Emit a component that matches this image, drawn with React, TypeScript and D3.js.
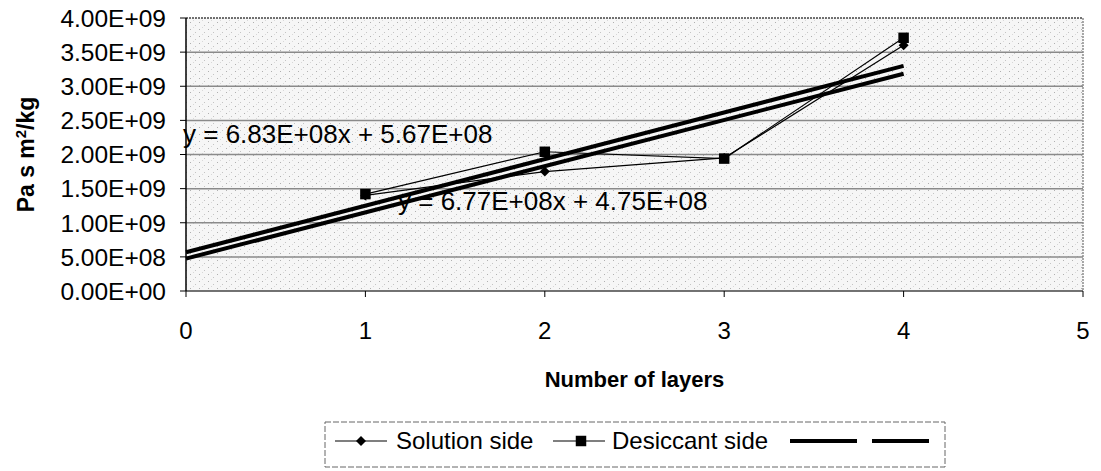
import React from 'react';
import * as d3 from 'd3';

const layers = [1, 2, 3, 4];
const solutionSide = [1.40e9, 1.75e9, 1.95e9, 3.60e9];
const desiccantSide = [1.42e9, 2.04e9, 1.94e9, 3.71e9];

// trend line coefficients, as printed on the chart
const trendDesiccant = { slope: 6.83e8, intercept: 5.67e8, label: 'y = 6.83E+08x + 5.67E+08' };
const trendSolution = { slope: 6.77e8, intercept: 4.75e8, label: 'y = 6.77E+08x + 4.75E+08' };

const xTicks = [0, 1, 2, 3, 4, 5];
const yTicks = [0, 5e8, 1e9, 1.5e9, 2e9, 2.5e9, 3e9, 3.5e9, 4e9];

const FONT = '"Liberation Sans", Arial, sans-serif';

const fmtE = (v: number) => {
  const [m, e] = v.toExponential(2).split('e');
  const n = Math.abs(parseInt(e, 10));
  return `${m}E${e[0] === '-' ? '-' : '+'}${n < 10 ? '0' + n : n}`;
};

const App: React.FC = () => {
  const width = 1101;
  const height = 471;
  const left = 186;
  const right = 1083;
  const top = 18;
  const bottom = 291;

  const x = d3.scaleLinear().domain([0, 5]).range([left, right]);
  const y = d3.scaleLinear().domain([0, 4e9]).range([bottom, top]);

  const line = d3.line<number>()
    .x((_, i) => x(layers[i]))
    .y(d => y(d));

  const trendPath = (t: { slope: number; intercept: number }) =>
    d3.line<number>().x(d => x(d)).y(d => y(t.slope * d + t.intercept))([0, 4]) || '';

  // Excel-style diamond: a square turned 45 degrees
  const diamond = d3.symbol().type(d3.symbolSquare).size(50)() || '';
  const square = d3.symbol().type(d3.symbolSquare).size(110)() || '';

  return (
    <svg width={width} height={height} style={{ position: 'absolute', left: 0, top: 0, background: '#fff' }}
      fontFamily={FONT}>
      <defs>
        <pattern id="speckle" width="9" height="7" patternUnits="userSpaceOnUse">
          <rect width="9" height="7" fill="#f6f6f6" />
          <rect x="1" y="1" width="1" height="1" fill="#b0b0b0" />
          <rect x="6" y="4" width="1" height="1" fill="#c4c4c4" />
          <rect x="4" y="6" width="1" height="1" fill="#d8d8d8" />
        </pattern>
      </defs>

      {/* plot area */}
      <rect x={left} y={top} width={right - left} height={bottom - top} fill="url(#speckle)" />
      <line x1={right} x2={right} y1={top} y2={bottom} stroke="#555" strokeDasharray="2,1" />

      {/* grid */}
      {yTicks.map(t => (
        <line key={t} x1={left} x2={right} y1={y(t)} y2={y(t)}
          stroke={t === 0 || t === 4e9 ? '#444' : '#8a8a8a'} strokeWidth={1.5}
          strokeDasharray={t === 4e9 ? '2,1' : undefined} />
      ))}

      {/* y axis */}
      <line x1={left} x2={left} y1={top} y2={bottom} stroke="#000" strokeWidth={1.5} />
      {yTicks.map(t => (
        <g key={'y' + t}>
          <line x1={left - 6} x2={left} y1={y(t)} y2={y(t)} stroke="#000" />
          <text x={166} y={y(t)} dy="0.36em" textAnchor="end" fontSize={24.5}>{fmtE(t)}</text>
        </g>
      ))}

      {/* x axis */}
      {xTicks.map(t => (
        <g key={'x' + t}>
          <line x1={x(t)} x2={x(t)} y1={bottom} y2={bottom + 6} stroke="#000" />
          <text x={x(t)} y={339} textAnchor="middle" fontSize={24}>{t}</text>
        </g>
      ))}

      <text x={(left + right) / 2} y={387} textAnchor="middle" fontSize={22} fontWeight="bold">
        Number of layers
      </text>
      <text transform={`translate(34,${(top + bottom) / 2}) rotate(-90)`} textAnchor="middle"
        fontSize={23} fontWeight="bold">
        Pa s m<tspan dy="-8" fontSize={15}>2</tspan><tspan dy="8">/kg</tspan>
      </text>

      {/* trend lines */}
      <path d={trendPath(trendDesiccant)} stroke="#000" strokeWidth={4} fill="none" />
      <path d={trendPath(trendSolution)} stroke="#000" strokeWidth={4} fill="none" />

      {/* series */}
      <path d={line(solutionSide) || ''} stroke="#000" strokeWidth={1.2} fill="none" />
      <path d={line(desiccantSide) || ''} stroke="#000" strokeWidth={1.2} fill="none" />
      {solutionSide.map((v, i) => (
        <path key={'s' + i} d={diamond} transform={`translate(${x(layers[i])},${y(v)}) rotate(45)`} fill="#000" />
      ))}
      {desiccantSide.map((v, i) => (
        <path key={'d' + i} d={square} transform={`translate(${x(layers[i])},${y(v)})`} fill="#000" />
      ))}

      {/* trend equations */}
      <text x={183} y={143} fontSize={26}>{trendDesiccant.label}</text>
      <text x={398} y={210} fontSize={26}>{trendSolution.label}</text>

      {/* legend */}
      <rect x={325} y={422} width={620} height={45} fill="#fff" stroke="#666" strokeDasharray="6,2" />
      <g transform="translate(0,441)">
        <line x1={335} x2={387} y1={0} y2={0} stroke="#000" strokeWidth={1.2} />
        <path d={diamond} transform="translate(361,0) rotate(45)" fill="#000" />
        <text x={396} y={0} dy="0.35em" fontSize={24}>Solution side</text>
        <line x1={553} x2={605} y1={0} y2={0} stroke="#000" strokeWidth={1.2} />
        <path d={square} transform="translate(581,0)" fill="#000" />
        <text x={612} y={0} dy="0.35em" fontSize={24}>Desiccant side</text>
        <line x1={790} x2={857} y1={0} y2={0} stroke="#000" strokeWidth={4} />
        <line x1={872} x2={929} y1={0} y2={0} stroke="#000" strokeWidth={4} />
      </g>
    </svg>
  );
};

export default App;
